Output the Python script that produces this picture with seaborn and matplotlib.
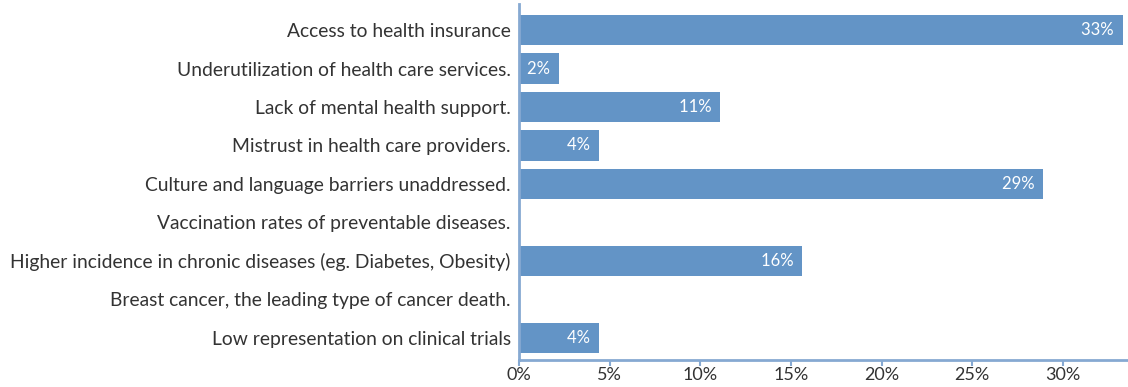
import matplotlib
matplotlib.use("Agg")
import matplotlib.pyplot as plt
import seaborn as sns
import pandas as pd

categories = [
    "Access to health insurance",
    "Underutilization of health care services.",
    "Lack of mental health support.",
    "Mistrust in health care providers.",
    "Culture and language barriers unaddressed.",
    "Vaccination rates of preventable diseases.",
    "Higher incidence in chronic diseases (eg. Diabetes, Obesity)",
    "Breast cancer, the leading type of cancer death.",
    "Low representation on clinical trials",
]
shares = [33.3, 2.2, 11.1, 4.4, 28.9, 0.0, 15.6, 0.0, 4.4]
tick_values = [0, 5, 10, 15, 20, 25, 30]

df = pd.DataFrame({"issue": categories, "share": shares})

sns.set_theme(style="white")
plt.rcParams["font.family"] = ["Lato", "DejaVu Sans"]

BAR = "#6394c6"
AXIS = "#86a9d2"
TEXT = "#333333"

fig = plt.figure(figsize=(11.28, 3.87), dpi=100)
ax = fig.add_axes([519 / 1128, 1 - 360 / 387, 1 - 519 / 1128, (360 - 4) / 387])

sns.barplot(data=df, x="share", y="issue", orient="h", color=BAR,
            saturation=1, width=0.79, linewidth=0, ax=ax)

ax.set_xlim(0, 33.6)
ax.set_ylim(len(categories) - 0.42, -0.68)
ax.set_xticks(tick_values)
ax.set_xticklabels([f"{t}%" for t in tick_values])
ax.set_xlabel("")
ax.set_ylabel("")

for side in ("top", "right"):
    ax.spines[side].set_visible(False)
for side in ("left", "bottom"):
    ax.spines[side].set_color(AXIS)
    ax.spines[side].set_linewidth(2)

ax.tick_params(axis="x", length=4, width=1.5, color=AXIS, labelsize=13,
               labelcolor=TEXT, pad=1, bottom=True)
ax.tick_params(axis="y", length=0, labelsize=13.9, labelcolor=TEXT, pad=6)

for i, v in enumerate(shares):
    if v > 0:
        ax.text(v, i, f"{v:.0f}%  ", ha="right", va="center",
                color="white", fontsize=12)

fig.savefig("out.png", dpi=100)
